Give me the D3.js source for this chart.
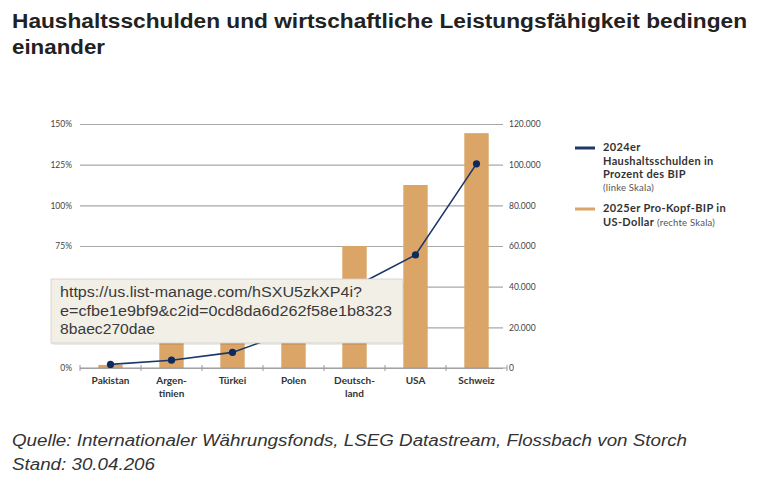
<!DOCTYPE html>
<html>
<head>
<meta charset="utf-8">
<script src="https://d3js.org/d3.v7.min.js"></script>
<style>
    body { margin: 0; background: #ffffff; }
    svg { display: block; }
    .title { font-family: "Liberation Sans", Arial, sans-serif; font-weight: bold; font-size: 20px; fill: #222; }
    .source { font-family: "Liberation Sans", Arial, sans-serif; font-style: italic; font-size: 16px; fill: #333; }
    .axis text { font-family: Lato, sans-serif; font-size: 8.5px; fill: #444; }
    .xlabel { font-family: Lato, sans-serif; font-weight: bold; font-size: 10px; fill: #333; }
    .legend { font-family: Lato, sans-serif; font-weight: bold; font-size: 11px; letter-spacing: 0.35px; fill: #333; }
    .legend .small { font-weight: normal; font-size: 9.5px; letter-spacing: 0.2px; fill: #555; }
    .tip { font-family: "Liberation Sans", Arial, sans-serif; font-size: 14px; fill: #3a3a3a; }
</style>
</head>
<body>
<script>

// Chart data
var categories = ["Pakistan", "Argentinien", "Türkei", "Polen", "Deutschland", "USA", "Schweiz"];
var categoryLabels = [["Pakistan"], ["Argen-", "tinien"], ["Türkei"], ["Polen"], ["Deutsch-", "land"], ["USA"], ["Schweiz"]];
var gdpPerCapita = [1500, 14000, 15500, 26000, 60000, 90000, 115500];
var householdDebt = [2.2, 4.8, 9.6, 23, 50, 69.5, 125.5];
var leftTicks = [0, 25, 50, 75, 100, 125, 150];
var rightTicks = [0, 20000, 40000, 60000, 80000, 100000, 120000];

var titleLines = ["Haushaltsschulden und wirtschaftliche Leistungsfähigkeit bedingen", "einander"];
var sourceLines = ["Quelle: Internationaler Währungsfonds, LSEG Datastream, Flossbach von Storch", "Stand: 30.04.206"];
var tooltipLines = ["https://us.list-manage.com/hSXU5zkXP4i?", "e=cfbe1e9bf9&c2id=0cd8da6d262f58e1b8323", "8baec270dae"];

window.onload = function() {
    drawChart();
};

/*
 * Draws the combined bar and line chart
 */
function drawChart() {

    var svgWidth = 760;
    var svgHeight = 489;

    // Plot area
    var left = 80;
    var right = 507;
    var top = 124;
    var bottom = 368;

    // Box of the link tooltip that lies over the chart
    var tipBox = {x: 51, y: 279, width: 352, height: 64};

    var barColor = "#dca568";
    var lineColor = "#1b3868";

    const svg = d3.select("body").append("svg")
        .attr("width", svgWidth)
        .attr("height", svgHeight);

    // Title
    svg.append("text")
        .attr("class", "title")
        .attr("x", 12)
        .attr("y", 28)
        .attr("textLength", 735)
        .attr("lengthAdjust", "spacingAndGlyphs")
        .text(titleLines[0]);
    svg.append("text")
        .attr("class", "title")
        .attr("x", 12)
        .attr("y", 54)
        .attr("textLength", 93)
        .attr("lengthAdjust", "spacingAndGlyphs")
        .text(titleLines[1]);

    // Scales
    const xScale = d3.scaleBand()
        .domain(categories)
        .range([left, right])
        .paddingInner(0.6)
        .paddingOuter(0.3);

    const yLeft = d3.scaleLinear()
        .domain([0, 150])
        .range([bottom, top]);

    const yRight = d3.scaleLinear()
        .domain([0, 120000])
        .range([bottom, top]);

    var germanLocale = d3.formatLocale({decimal: ",", thousands: ".", grouping: [3], currency: ["", "€"]});
    var thousands = germanLocale.format(",");

    // Left axis with horizontal gridlines
    var leftAxis = svg.append("g")
        .attr("class", "axis")
        .attr("transform", `translate(${left}, 0)`)
        .call(d3.axisLeft(yLeft)
            .tickValues(leftTicks)
            .tickSize(-(503 - left))
            .tickPadding(8)
            .tickFormat(function(d) { return d + "%"; }));
    leftAxis.select(".domain").remove();
    leftAxis.selectAll(".tick line")
        .attr("stroke", "#a8a8a8")
        .attr("stroke-width", 1.2);

    // Labels that sit under the tooltip are hidden in the picture
    leftAxis.selectAll(".tick text")
        .filter(function(d) {
            var y = yLeft(d);
            return y > tipBox.y && y < tipBox.y + tipBox.height;
        })
        .remove();

    // Right axis
    var rightAxis = svg.append("g")
        .attr("class", "axis")
        .attr("transform", "translate(503, 0)")
        .call(d3.axisRight(yRight)
            .tickValues(rightTicks)
            .tickSize(0)
            .tickPadding(6)
            .tickFormat(thousands));
    rightAxis.select(".domain").remove();

    // Bars
    svg.selectAll(".bar")
        .data(categories)
        .enter()
        .append("rect")
        .attr("class", "bar")
        .attr("x", function(d) { return xScale(d); })
        .attr("width", xScale.bandwidth())
        .attr("y", function(d, i) { return yRight(gdpPerCapita[i]); })
        .attr("height", function(d, i) { return bottom - yRight(gdpPerCapita[i]); })
        .attr("fill", barColor);

    // Bottom axis line with ticks between the categories
    svg.append("line")
        .attr("x1", left)
        .attr("x2", right)
        .attr("y1", bottom)
        .attr("y2", bottom)
        .attr("stroke", "#999")
        .attr("stroke-width", 1.2);

    var boundaries = [left].concat(categories.map(function(d) {
        return xScale(d) + xScale.bandwidth() / 2 + xScale.step() / 2;
    }));
    svg.selectAll(".xtick")
        .data(boundaries)
        .enter()
        .append("line")
        .attr("class", "xtick")
        .attr("x1", function(d) { return d; })
        .attr("x2", function(d) { return d; })
        .attr("y1", bottom - 3)
        .attr("y2", bottom + 3)
        .attr("stroke", "#999")
        .attr("stroke-width", 1);

    // Category labels
    var labels = svg.selectAll(".xlabel")
        .data(categories)
        .enter()
        .append("text")
        .attr("class", "xlabel")
        .attr("text-anchor", "middle")
        .attr("transform", function(d) {
            return `translate(${xScale(d) + xScale.bandwidth() / 2}, 384)`;
        });
    labels.each(function(d, i) {
        d3.select(this).selectAll("tspan")
            .data(categoryLabels[i])
            .enter()
            .append("tspan")
            .attr("x", 0)
            .attr("dy", function(t, j) { return j == 0 ? 0 : 13; })
            .text(function(t) { return t; });
    });

    // Debt line
    var points = categories.map(function(d, i) {
        return [xScale(d) + xScale.bandwidth() / 2, yLeft(householdDebt[i])];
    });
    var line = d3.line();
    svg.append("path")
        .attr("d", line(points))
        .attr("fill", "none")
        .attr("stroke", lineColor)
        .attr("stroke-width", 1.6);
    svg.selectAll(".point")
        .data(points)
        .enter()
        .append("circle")
        .attr("class", "point")
        .attr("cx", function(p) { return p[0]; })
        .attr("cy", function(p) { return p[1]; })
        .attr("r", 3.6)
        .attr("fill", "#0d2b5e");

    // Legend
    var legend = svg.append("g").attr("class", "legend");
    legend.append("line")
        .attr("x1", 575).attr("x2", 595)
        .attr("y1", 148).attr("y2", 148)
        .attr("stroke", lineColor)
        .attr("stroke-width", 3);
    var debtLegend = legend.append("text").attr("x", 603).attr("y", 151);
    ["2024er", "Haushaltsschulden in", "Prozent des BIP"].forEach(function(t, j) {
        debtLegend.append("tspan").attr("x", 603).attr("dy", j == 0 ? 0 : 13.5).text(t);
    });
    debtLegend.append("tspan").attr("class", "small").attr("x", 603).attr("dy", 12.5).text("(linke Skala)");

    legend.append("line")
        .attr("x1", 575).attr("x2", 595)
        .attr("y1", 209).attr("y2", 209)
        .attr("stroke", barColor)
        .attr("stroke-width", 3);
    var gdpLegend = legend.append("text").attr("x", 603).attr("y", 212);
    gdpLegend.append("tspan").attr("x", 603).text("2025er Pro-Kopf-BIP in");
    gdpLegend.append("tspan").attr("x", 603).attr("dy", 14).text("US-Dollar ");
    gdpLegend.append("tspan").attr("class", "small").text("(rechte Skala)");

    // Source lines
    svg.selectAll(".source")
        .data(sourceLines)
        .enter()
        .append("text")
        .attr("class", "source")
        .attr("x", 12)
        .attr("y", function(d, i) { return 446 + i * 24; })
        .attr("textLength", function(d, i) { return i == 0 ? 675 : 143; })
        .attr("lengthAdjust", "spacingAndGlyphs")
        .text(function(d) { return d; });

    // Link tooltip lying over the chart
    var tip = svg.append("g");
    tip.append("rect")
        .attr("x", tipBox.x + 1).attr("y", tipBox.y + 2)
        .attr("width", tipBox.width).attr("height", tipBox.height)
        .attr("fill", "#000").attr("opacity", 0.08)
        .attr("rx", 2);
    tip.append("rect")
        .attr("x", tipBox.x).attr("y", tipBox.y)
        .attr("width", tipBox.width).attr("height", tipBox.height)
        .attr("fill", "#f2efe7")
        .attr("stroke", "#d2d0ca")
        .attr("stroke-width", 0.8);
    var tipWidths = [302, 332, 95];
    tip.selectAll(".tip")
        .data(tooltipLines)
        .enter()
        .append("text")
        .attr("class", "tip")
        .attr("x", 60)
        .attr("y", function(d, i) { return 297 + i * 18.5; })
        .attr("textLength", function(d, i) { return tipWidths[i]; })
        .attr("lengthAdjust", "spacingAndGlyphs")
        .text(function(d) { return d; });
};

</script>
</body>
</html>
